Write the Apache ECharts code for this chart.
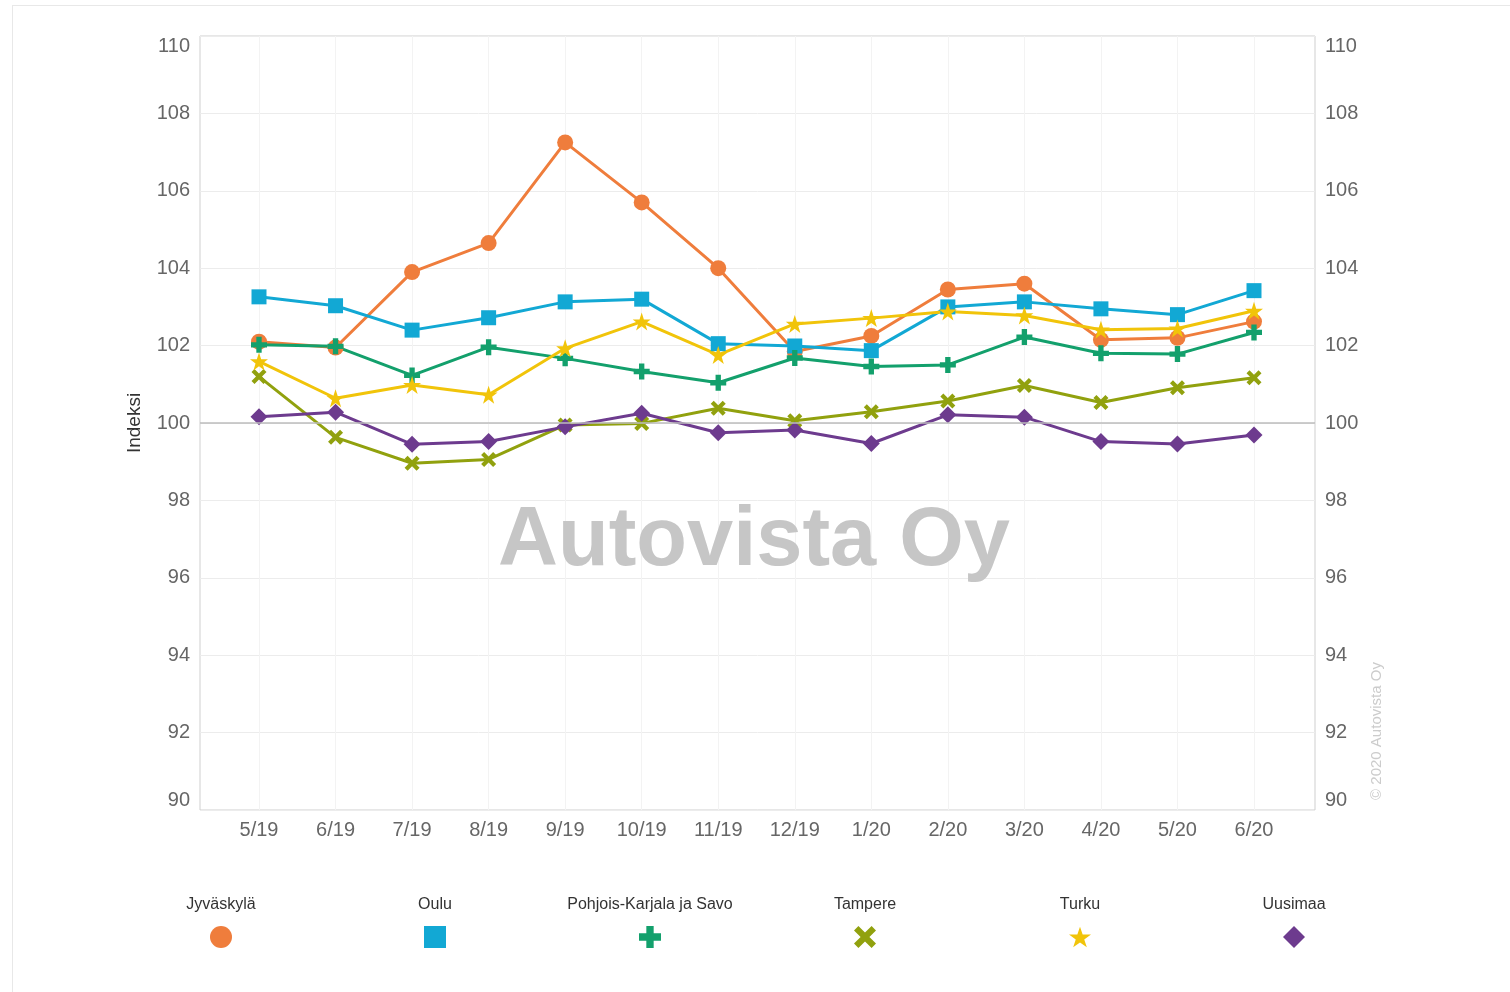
<!DOCTYPE html>
<html lang="fi">
<head>
    <meta charset="UTF-8">
    <script src="https://cdn.jsdelivr.net/npm/echarts@6/dist/echarts.min.js"></script>
    <title>Indeksi</title>
    <style>
        html, body { margin: 0; padding: 0; background: #fff; }
        .frame { position: absolute; left: 12px; top: 5px; width: 1510px; height: 1000px; border: 1px solid #e8e8e8; }
        #chart { position: absolute; left: 0; top: 0; width: 1510px; height: 992px; }
    </style>
</head>
<body>
<div class="frame"></div>
<div id="chart"></div>

<script>
    const months = ['5/19', '6/19', '7/19', '8/19', '9/19', '10/19', '11/19', '12/19', '1/20', '2/20', '3/20', '4/20', '5/20', '6/20'];

    const jyvaskyla = [102.1, 101.95, 103.9, 104.65, 107.25, 105.7, 104.0, 101.85, 102.25, 103.45, 103.6, 102.15, 102.2, 102.62];
    const oulu = [103.26, 103.03, 102.4, 102.72, 103.13, 103.2, 102.05, 101.99, 101.87, 103.0, 103.13, 102.95, 102.8, 103.42];
    const pohjoisKarjala = [102.02, 101.98, 101.23, 101.96, 101.67, 101.33, 101.04, 101.68, 101.46, 101.5, 102.22, 101.8, 101.78, 102.34];
    const tampere = [101.2, 99.63, 98.96, 99.06, 99.95, 99.99, 100.38, 100.06, 100.29, 100.57, 100.97, 100.53, 100.91, 101.17];
    const turku = [101.59, 100.64, 100.98, 100.73, 101.93, 102.62, 101.76, 102.56, 102.71, 102.88, 102.78, 102.41, 102.44, 102.9];
    const uusimaa = [100.16, 100.28, 99.45, 99.52, 99.9, 100.25, 99.75, 99.82, 99.47, 100.21, 100.15, 99.52, 99.46, 99.69];

    const PLUS = 'path://M1,0H2V1H3V2H2V3H1V2H0V1H1Z';
    const CROSS = 'path://M0,1L1,0L2.5,1.5L4,0L5,1L3.5,2.5L5,4L4,5L2.5,3.5L1,5L0,4L1.5,2.5Z';
    const STAR = 'path://M50,0L61.8,35.1L98.9,35.1L68.9,56.9L80.3,92.1L50,70.4L19.7,92.1L31.1,56.9L1.1,35.1L38.2,35.1Z';

    const regions = [
        { name: 'Jyväskylä', data: jyvaskyla, color: '#ef7d3c', symbol: 'circle', size: 16 },
        { name: 'Oulu', data: oulu, color: '#12a8d4', symbol: 'rect', size: 15 },
        { name: 'Pohjois-Karjala ja Savo', data: pohjoisKarjala, color: '#13a06c', symbol: PLUS, size: 16 },
        { name: 'Tampere', data: tampere, color: '#91a10e', symbol: CROSS, size: 15 },
        { name: 'Turku', data: turku, color: '#f1c40a', symbol: STAR, size: 18 },
        { name: 'Uusimaa', data: uusimaa, color: '#6d3b8e', symbol: 'diamond', size: 17 }
    ];

    // legend centres along the bottom
    const legendX = [221, 435, 650, 865, 1080, 1294];

    const chart = echarts.init(document.getElementById('chart'));
    const font = 'Liberation Sans, Arial, sans-serif';

    const series = regions.map(r => ({
        name: r.name,
        type: 'line',
        xAxisIndex: 0,
        yAxisIndex: 0,
        data: r.data,
        symbol: r.symbol,
        symbolSize: r.size,
        showAllSymbol: true,
        z: 3,
        lineStyle: { color: r.color, width: 3 },
        itemStyle: { color: r.color, borderWidth: 0 }
    }));

    // 100 reference line over the full frame
    series.push({
        name: 'base',
        type: 'line',
        xAxisIndex: 1,
        yAxisIndex: 1,
        data: [],
        z: 1,
        markLine: {
            silent: true,
            symbol: 'none',
            label: { show: false },
            lineStyle: { color: '#bdbdbd', type: 'solid', width: 1.5 },
            data: [{ yAxis: 100 }]
        }
    });

    const yLabel = {
        color: '#666', fontSize: 20, margin: 10,
        verticalAlignMaxLabel: 'top', verticalAlignMinLabel: 'bottom'
    };

    const option = {
        animation: false,
        textStyle: { fontFamily: font },
        grid: [
            { left: 259, right: 256, top: 36, bottom: 182 },
            { left: 200, right: 195, top: 36, bottom: 182, show: true, borderColor: '#cfcfcf', borderWidth: 1, z: 0 }
        ],
        xAxis: [
            {
                type: 'category',
                gridIndex: 0,
                data: months,
                boundaryGap: false,
                axisLine: { show: false },
                axisTick: { show: false },
                axisLabel: { color: '#666', fontSize: 20, margin: 10 },
                splitLine: { show: true, lineStyle: { color: '#f3f3f3', width: 1 } }
            },
            { type: 'value', gridIndex: 1, min: 0, max: 1, show: false }
        ],
        yAxis: [
            { type: 'value', gridIndex: 0, min: 90, max: 110, interval: 2, show: false },
            {
                type: 'value',
                gridIndex: 1,
                position: 'left',
                min: 90,
                max: 110,
                interval: 2,
                name: 'Indeksi',
                nameLocation: 'middle',
                nameGap: 56,
                nameTextStyle: { color: '#333', fontSize: 19 },
                axisLine: { show: false },
                axisTick: { show: false },
                axisLabel: yLabel,
                splitLine: { show: true, lineStyle: { color: '#ececec', width: 1 } }
            },
            {
                type: 'value',
                gridIndex: 1,
                position: 'right',
                min: 90,
                max: 110,
                interval: 2,
                axisLine: { show: false },
                axisTick: { show: false },
                axisLabel: yLabel,
                splitLine: { show: false }
            }
        ],
        legend: regions.map((r, i) => ({
            data: [{ name: r.name, icon: r.symbol }],
            left: legendX[i] - 11,
            top: 926,
            itemWidth: 22,
            itemHeight: 22,
            padding: 0,
            formatter: () => ''
        })),
        graphic: [
            {
                type: 'text',
                x: 754,
                y: 542,
                z: 2,
                silent: true,
                style: {
                    text: 'Autovista Oy',
                    font: 'bold 83px ' + font,
                    fill: '#c6c6c6',
                    align: 'center',
                    verticalAlign: 'middle'
                }
            },
            {
                type: 'text',
                x: 1377,
                y: 731,
                rotation: Math.PI / 2,
                silent: true,
                style: {
                    text: '© 2020 Autovista Oy',
                    font: '15px ' + font,
                    fill: '#cccccc',
                    align: 'center',
                    verticalAlign: 'middle'
                }
            }
        ].concat(regions.map((r, i) => ({
            type: 'text',
            x: legendX[i],
            y: 905,
            silent: true,
            style: {
                text: r.name,
                font: '16px ' + font,
                fill: '#333',
                align: 'center',
                verticalAlign: 'middle'
            }
        }))),
        series: series
    };

    chart.setOption(option);
</script>
</body>
</html>
